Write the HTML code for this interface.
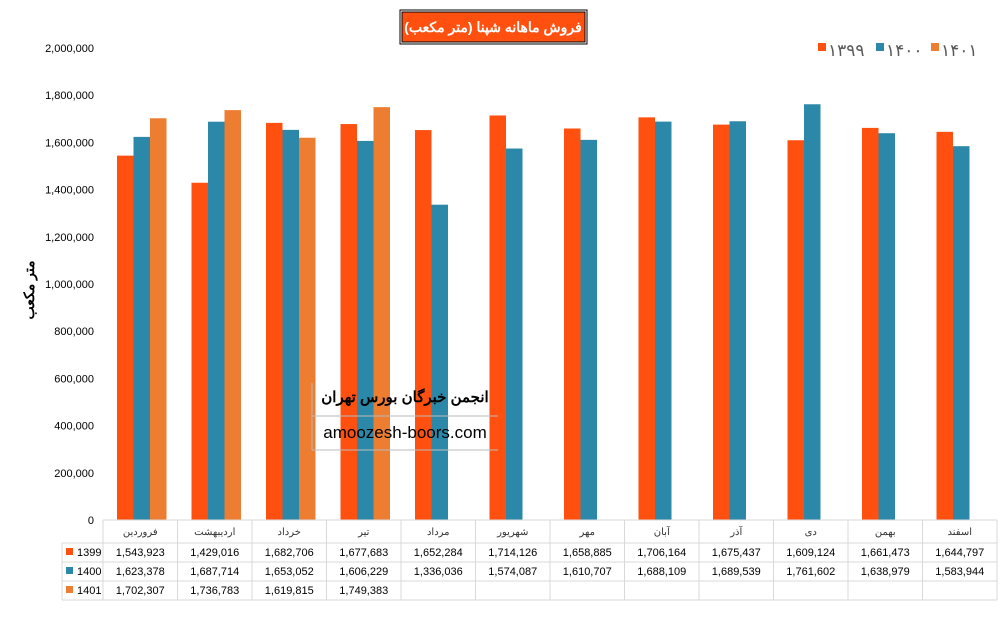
<!DOCTYPE html>
<html><head><meta charset="utf-8"><style>
body{margin:0;background:#fff}
svg text{font-family:"Liberation Sans","Noto Sans CJK SC",sans-serif}
</style></head><body>
<svg width="1005" height="617" xmlns="http://www.w3.org/2000/svg">
<rect width="1005" height="617" fill="#fff"/>
<rect x="400" y="10" width="187" height="34" fill="#fff" stroke="#000" stroke-width="1"/>
<rect x="402" y="12" width="183" height="30" fill="#FF5010" stroke="#000" stroke-width="1"/>
<text x="493" y="32" font-size="14" font-weight="bold" fill="#fff" text-anchor="middle" font-family="DejaVu Sans,sans-serif">فروش ماهانه شپنا (متر مکعب)</text>
<rect x="818" y="43" width="8" height="8" fill="#FF5010"/><text x="828" y="56" font-size="17" fill="#595959">۱۳۹۹</text>
<rect x="876" y="43" width="8" height="8" fill="#2B88A8"/><text x="886" y="56" font-size="17" fill="#595959">۱۴۰۰</text>
<rect x="931" y="43" width="8" height="8" fill="#ED7D31"/><text x="941" y="56" font-size="17" fill="#595959">۱۴۰۱</text>
<g font-size="11" fill="#000" text-anchor="end" id="yl"></g>
<text transform="translate(34,290) rotate(-90)" font-size="14" font-weight="bold" text-anchor="middle" font-family="DejaVu Sans,sans-serif">متر مکعب</text>
<g id="bars"></g>
<g id="tbl" stroke="#d9d9d9" fill="none" stroke-width="1"></g>
<g id="tt" font-size="11" fill="#000" text-anchor="middle"></g>
<line x1="312" y1="383" x2="312" y2="450" stroke="#bbb"/>
<line x1="312" y1="416" x2="498" y2="416" stroke="#bbb"/>
<line x1="312" y1="450" x2="498" y2="450" stroke="#bbb"/>
<text x="405" y="402" font-size="15" font-weight="bold" text-anchor="middle" font-family="DejaVu Sans,sans-serif">انجمن خبرگان بورس تهران</text>
<text x="405" y="438" font-size="17" text-anchor="middle">amoozesh-boors.com</text>
</svg>
<script>
var ns="http://www.w3.org/2000/svg";
function el(p,t,a,txt){var e=document.createElementNS(ns,t);for(var k in a)e.setAttribute(k,a[k]);if(txt!=null)e.textContent=txt;p.appendChild(e);return e;}
var yl=document.getElementById('yl');
for(var i=0;i<=10;i++){var v=i*200000;el(yl,'text',{x:94,y:520-i*47.2+4},v==0?'0':v.toLocaleString('en-US'));}
var m=['فروردین','اردیبهشت','خرداد','تیر','مرداد','شهریور','مهر','آبان','آذر','دی','بهمن','اسفند'];
var d=[[1543923,1429016,1682706,1677683,1652284,1714126,1658885,1706164,1675437,1609124,1661473,1644797],
[1623378,1687714,1653052,1606229,1336036,1574087,1610707,1688109,1689539,1761602,1638979,1583944],
[1702307,1736783,1619815,1749383]];
var c=['#FF5010','#2B88A8','#ED7D31'],nm=['1399','1400','1401'];
var b=document.getElementById('bars'),tb=document.getElementById('tbl'),tt=document.getElementById('tt');
var cw=74.5;
for(var s=0;s<3;s++)for(var j=0;j<d[s].length;j++){var h=d[s][j]*472/2e6;el(b,'rect',{x:103+j*cw+14+s*16.5,y:520-h,width:16.5,height:h,fill:c[s]});}
el(tb,'line',{x1:103,y1:520,x2:997,y2:520});
for(var j=0;j<=12;j++){var x=103+j*cw;el(tb,'line',{x1:x,y1:520,x2:x,y2:600});}
el(tb,'line',{x1:62,y1:543,x2:62,y2:600});
[543,562,581,600].forEach(function(y){el(tb,'line',{x1:62,y1:y,x2:997,y2:y});});
for(var j=0;j<12;j++){el(tt,'text',{x:103+j*cw+cw/2,y:535,'font-size':10,fill:'#333'},m[j]);
 for(var s=0;s<3;s++)if(d[s][j])el(tt,'text',{x:103+j*cw+cw/2,y:556+s*19},d[s][j].toLocaleString('en-US'));}
for(var s=0;s<3;s++){el(tt,'rect',{x:66,y:548+s*19,width:7,height:7,fill:c[s]});el(tt,'text',{x:77,y:556+s*19,'text-anchor':'start'},nm[s]);}
</script>
</body></html>
